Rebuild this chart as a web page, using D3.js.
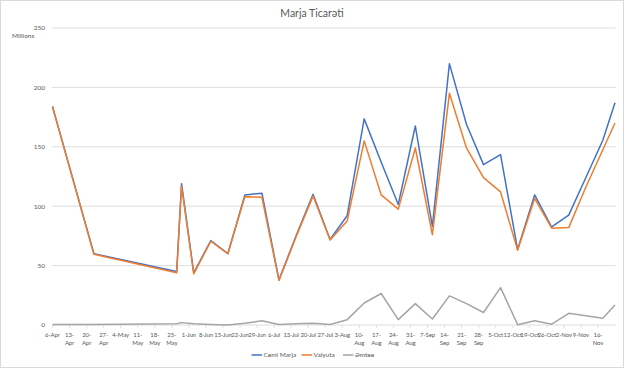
<!DOCTYPE html>
<html><head><meta charset="utf-8">
<script src="https://cdn.jsdelivr.net/npm/d3@7"></script>
<style>body{margin:0;background:#fff}svg{display:block;font-family:Lato,"Open Sans",sans-serif}</style>
</head><body>
<script>
const dates = ["2020-04-06","2020-04-23","2020-05-27","2020-05-29","2020-06-03","2020-06-10","2020-06-17","2020-06-24","2020-07-01","2020-07-08","2020-07-15","2020-07-22","2020-07-29","2020-08-05","2020-08-12","2020-08-19","2020-08-26","2020-09-02","2020-09-09","2020-09-16","2020-09-23","2020-09-30","2020-10-07","2020-10-14","2020-10-21","2020-10-28","2020-11-04","2020-11-11","2020-11-18","2020-11-23"];
const camiMarja = [184,60,45,119,44,71,60,109.5,111,38,75,110,72,92,173.5,137,101.5,167.5,83,220,169,135,143.5,63.5,109.5,82.5,92.5,124,155.5,187];
const valyuta   = [183.5,59.5,44,117,43,70.5,60,108,107.5,37.5,74,108.5,71.5,87.5,155,109.5,97.5,149,76,195,149,124,112,63,106.5,81.5,82,116,147.5,170];
const emtee     = [0.5,0.5,1,2,1,0.5,0,1.5,3.5,0.5,1,1.5,0.5,4.5,18.5,26.5,4.5,18,5,24.5,18,10.5,31.5,0.3,3.5,0.7,9.8,7.8,5.6,16.8];
const tickLabels = ["6-Apr","13-|Apr","20-|Apr","27-|Apr","4-May","11-|May","18-|May","25-|May","1-Jun","8-Jun","15-Jun","22-Jun","29-Jun","6-Jul","13-Jul","20-Jul","27-Jul","3-Aug","10-|Aug","17-|Aug","24-|Aug","31-|Aug","7-Sep","14-|Sep","21-|Sep","28-|Sep","5-Oct","12-Oct","19-Oct","26-Oct","2-Nov","9-Nov","16-|Nov"];
const yTicks = [0,50,100,150,200,250];
const seriesNames = ["Cəmi Marja","Valyuta","Əmtəə"];
const colors = ["#4472C4","#ED7D31","#A5A5A5"];

const W=624,H=368;
const parse=d3.timeParse("%Y-%m-%d");
const dts=dates.map(parse);
const svg=d3.select("body").append("svg").attr("width",W).attr("height",H);
svg.append("rect").attr("x",0.5).attr("y",0.5).attr("width",W-1).attr("height",H-1).attr("fill","#fff").attr("stroke","#d9d9d9");

const x=d3.scaleTime().domain([parse("2020-04-06"),parse("2020-11-23")]).range([52.5,615]);
const y=d3.scaleLinear().domain([0,250]).range([325,28]);

svg.append("g").selectAll("line").data(yTicks).join("line")
  .attr("x1",52).attr("x2",615.5).attr("y1",d=>y(d)).attr("y2",d=>y(d))
  .attr("stroke","#d9d9d9").attr("stroke-width",0.9);
svg.append("g").selectAll("text").data(yTicks).join("text")
  .attr("x",45).attr("y",d=>y(d)+2.3).attr("text-anchor","end")
  .attr("font-size",6.5).attr("fill","#595959").text(d=>d);
svg.append("text").attr("x",12).attr("y",37.5).attr("font-size",6.5).attr("fill","#595959").text("Millions");

const tickDates=tickLabels.map((t,i)=>d3.timeDay.offset(parse("2020-04-06"),7*i));
const gx=svg.append("g");
gx.selectAll("line").data(tickDates).join("line")
  .attr("x1",d=>x(d)).attr("x2",d=>x(d)).attr("y1",325).attr("y2",328)
  .attr("stroke","#d9d9d9").attr("stroke-width",0.8);
const tl=gx.selectAll("text").data(tickLabels).join("text")
  .attr("x",(d,i)=>x(tickDates[i])).attr("y",336.5).attr("text-anchor","middle")
  .attr("font-size",6).attr("letter-spacing",-0.1).attr("fill","#595959");
tl.each(function(d,i){
  const parts=d.split("|");
  const t=d3.select(this);
  parts.forEach((p,j)=>t.append("tspan").attr("x",x(tickDates[i])).attr("dy",j?8.2:0).text(p));
});

svg.append("text").attr("x",312).attr("y",17).attr("text-anchor","middle")
  .attr("font-size",10.5).attr("fill","#595959").text("Marja Ticarəti");

const all=[camiMarja,valyuta,emtee];
const line=d3.line().x((d,i)=>x(dts[i])).y(d=>y(d));
[0,1,2].forEach(k=>{
  svg.append("path").datum(all[k]).attr("d",line).attr("fill","none")
    .attr("stroke",colors[k]).attr("stroke-width",1.5).attr("stroke-linejoin","round");
});

const lx=[251.5,301.5,343];
const lg=svg.append("g");
seriesNames.forEach((n,k)=>{
  lg.append("line").attr("x1",lx[k]).attr("x2",lx[k]+10.5).attr("y1",355).attr("y2",355)
    .attr("stroke",colors[k]).attr("stroke-width",1.5);
  lg.append("text").attr("x",lx[k]+12).attr("y",357.3).attr("font-size",6.5).attr("fill","#595959").text(n);
});
</script>
</body></html>
